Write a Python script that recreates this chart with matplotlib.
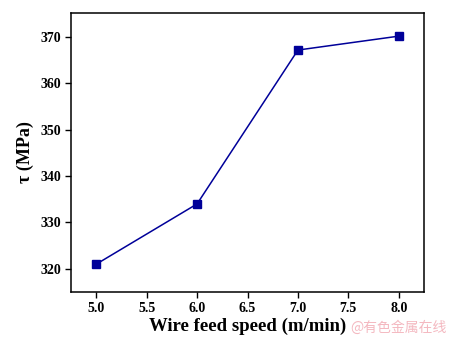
import matplotlib
matplotlib.use("Agg")
import matplotlib.pyplot as plt

speed = [5.0, 6.0, 7.0, 8.0]
tau = [321.0, 334.0, 367.2, 370.2]
xticks = [5.0, 5.5, 6.0, 6.5, 7.0, 7.5, 8.0]
yticks = [320, 330, 340, 350, 360, 370]

plt.rcParams['font.family'] = ['Liberation Serif', 'DejaVu Serif']
fig = plt.figure(figsize=(4.51, 3.40), dpi=100)
ax = fig.add_axes([71/451, 1 - 292/340, (424-71)/451, (292-12.5)/340])
ax.plot(speed, tau, color='#000099', lw=1.1, marker='s', ms=5.5, mfc='#000099', mec='#000099')
ax.set_xlim(4.75, 8.25)
ax.set_ylim(315, 375.3)
ax.set_xticks(xticks)
ax.set_xticklabels([f"{v:.1f}" for v in xticks])
ax.set_yticks(yticks)
ax.tick_params(direction='out', length=4, width=1, labelsize=10, top=False, right=False, pad=3)
for lab in ax.get_xticklabels() + ax.get_yticklabels():
    lab.set_fontweight('bold')
for s in ax.spines.values():
    s.set_linewidth(1.1)
ax.set_xlabel("Wire feed speed (m/min)", fontsize=13.5, fontweight='bold', labelpad=2)
ax.set_ylabel("τ (MPa)", fontsize=13, fontweight='bold', labelpad=5)
fig.text(447/451, 1 - 332/340, "@有色金属在线", ha='right', va='baseline', fontsize=10,
         color='#f4b8c0', family=['Noto Sans CJK SC', 'DejaVu Sans'])
fig.savefig("out.png", dpi=100)
